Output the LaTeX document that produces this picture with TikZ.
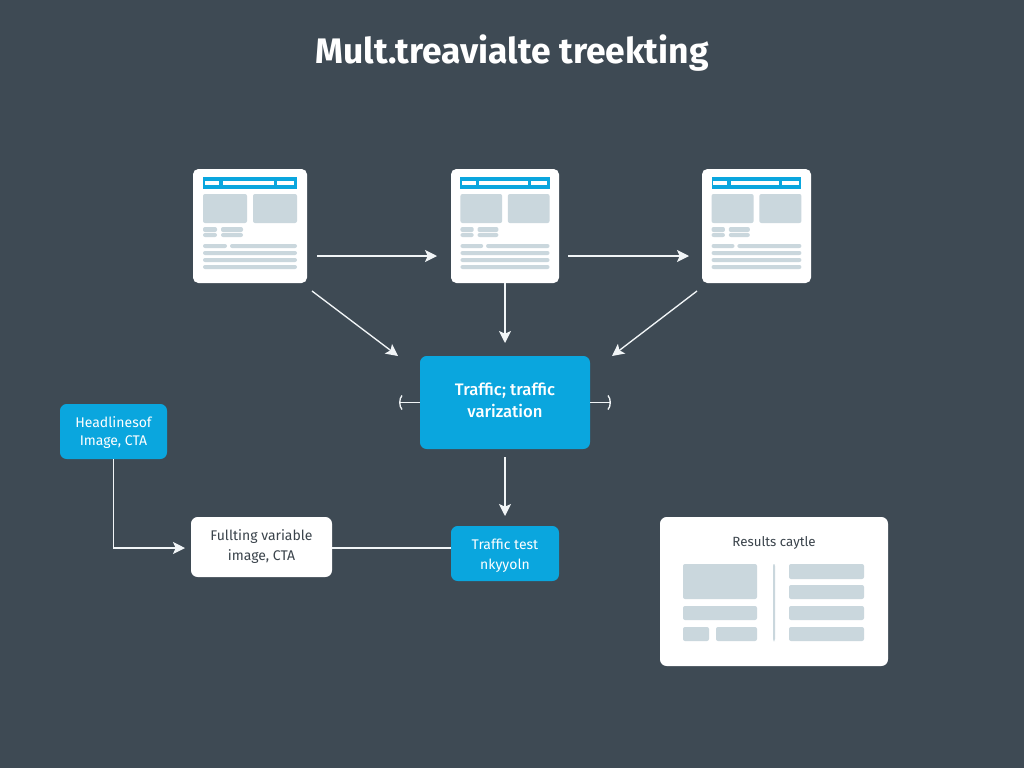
\documentclass[tikz,border=0pt]{standalone}
\usepackage{fontspec}
\setmainfont{Fira Sans}
\newfontfamily\medf{Fira Sans Medium}
\usetikzlibrary{arrows.meta,calc}
\definecolor{bgc}{HTML}{3E4A54}
\definecolor{cyanc}{HTML}{0AA6DE}
\definecolor{grayc}{HTML}{CAD7DD}
\definecolor{inkc}{HTML}{3A434B}
\definecolor{linec}{HTML}{F1F5F7}
\tikzset{
  px/.style={x=0.75pt,y=-0.75pt},
  card/.style={fill=white,rounded corners=4pt,inner sep=0pt,outer sep=0pt,anchor=north west},
  bluebox/.style={fill=cyanc,text=white,rounded corners=5pt,inner sep=0pt,outer sep=0pt,anchor=north west,align=center},
  whitebox/.style={fill=white,text=inkc,rounded corners=5pt,inner sep=0pt,outer sep=0pt,anchor=north west,align=center},
  conn/.style={draw=linec,line width=1pt,-{Stealth[length=9pt,width=9pt,inset=2pt]}},
  plain/.style={draw=linec,line width=1pt},
  block/.style={fill=grayc,rounded corners=1.5pt},
  bar/.style={fill=cyanc},
  barw/.style={fill=white},
}
\newcommand{\bx}[5][block]{\fill[#1] (#2,#3) rectangle (#4,#5);}
\newcommand{\pagecard}[3]{%
  \node[card,minimum width=#3*0.75pt,minimum height=85.5pt] (#1) at (#2,169) {};
  \begin{scope}[shift={(#2,0)},xscale=#3/114]
    \bx[bar]{10}{177}{104}{189}
    \bx[barw]{12}{181}{26}{185}
    \bx[barw]{30}{181}{81}{185}
    \bx[barw]{84}{181}{101}{185}
    \bx{10}{194}{54}{223}
    \bx{60}{194}{104}{223}
    \bx{10}{227}{24}{232}
    \bx{10}{233}{24}{237}
    \bx{28}{227}{50}{232}
    \bx{28}{233}{50}{237}
    \bx{10}{244}{34}{248}
    \bx{37}{244}{104}{248}
    \bx{10}{251}{104}{255}
    \bx{10}{258}{104}{262}
    \bx{10}{265}{104}{269}
  \end{scope}}
\begin{document}
\begin{tikzpicture}[px]
\useasboundingbox (0,0) rectangle (1024,768);
\fill[bgc] (0,0) rectangle (1024,768);
\node[text=white,inner sep=0pt,font=\fontsize{26.6}{30}\selectfont\bfseries] (title) at (512,53) {Mult.treavialte treekting};
\pagecard{pa}{193}{114}
\pagecard{pb}{451}{108}
\pagecard{pc}{702}{109}
\node[bluebox,minimum width=127.5pt,minimum height=69.75pt] (hub) at (420,356) {};
\node[text=white,inner sep=0pt,align=center,font=\fontsize{12.5}{16.5}\selectfont\medf] (hubtext) at (505,400.5) {Traffic; traffic\\varization};
\node[bluebox,minimum width=80.25pt,minimum height=41.25pt] (head) at (60,404) {};
\node[text=white,inner sep=0pt,align=center,font=\fontsize{10.5}{13.5}\selectfont] (headtext) at (113.5,432.5) {Headlinesof\\Image, CTA};
\node[whitebox,minimum width=105.75pt,minimum height=45pt,font=\fontsize{10.5}{15}\selectfont] (full) at (191,517) {Fullting variable\\image, CTA};
\node[bluebox,minimum width=81pt,minimum height=41.25pt] (test) at (451,526) {};
\node[text=white,inner sep=0pt,align=center,font=\fontsize{10.5}{15}\selectfont] (testtext) at (505,556) {Traffic test\\nkyyoln};
\node[whitebox,minimum width=171pt,minimum height=111.75pt] (res) at (660,517) {};
\node[text=inkc,inner sep=0pt,font=\fontsize{10}{12}\selectfont] (restitle) at (774,543) {Results caytle};
\bx{683}{564}{757}{599}
\bx{683}{606}{757}{620}
\bx{683}{627}{709}{641}
\bx{716}{627}{757}{641}
\bx{773}{564}{775}{641}
\bx{789}{564}{864}{579}
\bx{789}{585}{864}{599}
\bx{789}{606}{864}{620}
\bx{789}{627}{864}{641}
% connectors
\draw[conn] ($(pa.east)+(10,30)$) -- ($(pb.west)+(-14,30)$);
\draw[conn] ($(pb.east)+(9,30)$) -- ($(pc.west)+(-13,30)$);
\draw[conn] ($(pa.south east)+(5,8)$) -- ($(hub.north west)+(-22,0)$);
\draw[conn] (pb.south) -- ($(hub.north)+(0,-13)$);
\draw[conn] ($(pc.south west)+(-5,8)$) -- ($(hub.north east)+(22,0)$);
\draw[conn] ($(hub.south)+(0,8)$) -- ($(test.north)+(0,-10)$);
\draw[conn] (head.south) |- ($(full.west)+(-6,1)$);
\draw[plain] ($(full.east)+(0,1)$) -- ($(test.west)+(0,-5.5)$);
\draw[plain] (hub.west) -- ++(-20,0);
\draw[plain] ($(hub.west)+(-18,-7)$) .. controls ($(hub.west)+(-21,-4)$) and ($(hub.west)+(-21,4)$) .. ($(hub.west)+(-18,7)$);
\draw[plain] (hub.east) -- ++(20,0);
\draw[plain] ($(hub.east)+(18,-7)$) .. controls ($(hub.east)+(21,-4)$) and ($(hub.east)+(21,4)$) .. ($(hub.east)+(18,7)$);
\end{tikzpicture}
\end{document}
